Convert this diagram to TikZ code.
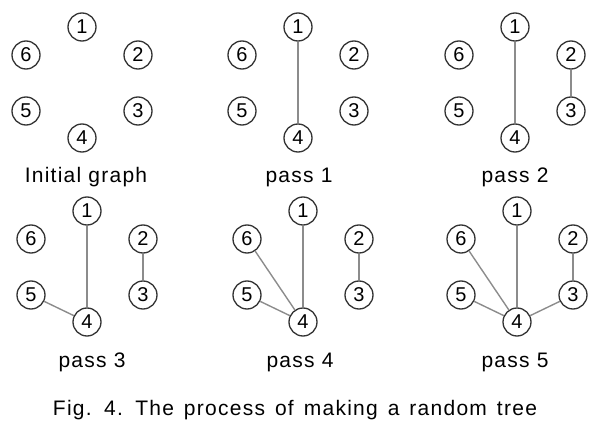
\documentclass[tikz,border=0pt]{standalone}
\usepackage{fontspec}
\setmainfont{Liberation Sans}
\newfontfamily\widefont[LetterSpace=6]{Liberation Sans}
\usepackage{xcolor}
\usepackage{tikz}
\usetikzlibrary{positioning}
\definecolor{ringgray}{HTML}{333333}
\definecolor{edgegray}{HTML}{8C8C8C}
\tikzset{
  vert/.style={circle, draw=ringgray, line width=1.3pt, minimum size=28pt, inner sep=0pt, font=\fontsize{20}{20}\selectfont},
  link/.style={draw=edgegray, line width=1.4pt},
  panellabel/.style={anchor=base, font=\widefont\fontsize{21}{23}\selectfont},
}
% six vertices of one panel: #1 prefix, #2 x of vertex 1, #3 y of vertex 1
\newcommand{\sixverts}[3]{%
  \foreach \k/\dx/\dy in {1/0/0, 2/56/28, 3/56/84, 4/0/111, 5/-56/84, 6/-56/28} {
    \node[vert] (#1\k) at ({#2+\dx},{#3+\dy}) {\k};
  }%
}

\begin{document}
\begin{tikzpicture}[x=1pt, y=-1pt]
  \useasboundingbox (0,0) rectangle (606,423);

  % Initial graph
  \sixverts{a}{82}{27}
  \node[panellabel] (lbla) at (86,182) {Initial graph};

  % pass 1
  \sixverts{b}{298}{27}
  \draw[link] (b1) -- (b4);
  \node[panellabel] (lblb) at (299,182) {pass 1};

  % pass 2
  \sixverts{c}{515}{27}
  \draw[link] (c1) -- (c4);
  \draw[link] (c2) -- (c3);
  \node[panellabel] (lblc) at (515,182) {pass 2};

  % pass 3
  \sixverts{d}{87}{211}
  \foreach \u/\v in {1/4, 2/3, 5/4} \draw[link] (d\u) -- (d\v);
  \node[panellabel] (lbld) at (92,367) {pass 3};

  % pass 4
  \sixverts{e}{303}{211}
  \foreach \u/\v in {1/4, 2/3, 5/4, 6/4} \draw[link] (e\u) -- (e\v);
  \node[panellabel] (lble) at (300,367) {pass 4};

  % pass 5
  \sixverts{f}{517}{211}
  \foreach \u/\v in {1/4, 2/3, 5/4, 6/4, 3/4} \draw[link] (f\u) -- (f\v);
  \node[panellabel] (lblf) at (515,367) {pass 5};

  % caption
  \node[anchor=base, font=\widefont\fontsize{21}{23}\selectfont] (caption) at (295,415) {\spaceskip=10pt Fig. 4. The process of making a random tree};
\end{tikzpicture}
\end{document}
